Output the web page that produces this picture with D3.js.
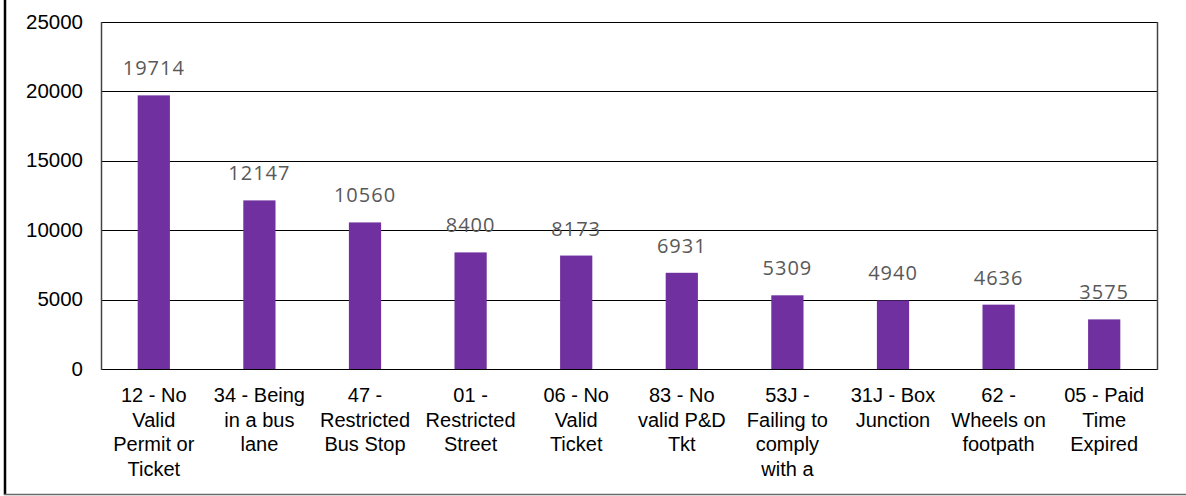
<!DOCTYPE html>
<html>
<head>
<meta charset="utf-8">
<script src="https://cdn.jsdelivr.net/npm/d3@7"></script>
<style>
  body { margin: 0; background: #fff; }
  svg { display: block; }
</style>
</head>
<body>
<div id="chart"></div>
<script>
// ======= chart data
var categories = [
  "12 - No\nValid\nPermit or\nTicket",
  "34 - Being\nin a bus\nlane",
  "47 -\nRestricted\nBus Stop",
  "01 -\nRestricted\nStreet",
  "06 - No\nValid\nTicket",
  "83 - No\nvalid P&D\nTkt",
  "53J -\nFailing to\ncomply\nwith a",
  "31J - Box\nJunction",
  "62 -\nWheels on\nfootpath",
  "05 - Paid\nTime\nExpired"
];
var counts = [19714, 12147, 10560, 8400, 8173, 6931, 5309, 4940, 4636, 3575];
var yTicks = [0, 5000, 10000, 15000, 20000, 25000];

var W = 1186, H = 496;
var plot = { left: 101, right: 1157, top: 22, bottom: 369 };

var svg = d3.select("#chart").append("svg")
  .attr("width", W)
  .attr("height", H);

// ======= outer frame (left + bottom edges only show)
svg.append("line")
  .attr("x1", 5).attr("x2", 5).attr("y1", 0).attr("y2", 495)
  .attr("stroke", "#000").attr("stroke-width", 2.5);
svg.append("line")
  .attr("x1", 4).attr("x2", W).attr("y1", 494.5).attr("y2", 494.5)
  .attr("stroke", "#6a6a6a").attr("stroke-width", 1.5);

var x = d3.scaleBand()
  .domain(d3.range(categories.length))
  .range([plot.left, plot.right])
  .paddingInner(0.695)
  .paddingOuter(0.3475);

var y = d3.scaleLinear()
  .domain([0, 25000])
  .range([plot.bottom, plot.top]);

// ======= gridlines
svg.append("g").selectAll("line")
  .data(yTicks)
  .enter()
  .append("line")
  .attr("x1", plot.left)
  .attr("x2", plot.right)
  .attr("y1", function(d) { return Math.round(y(d)) + 0.5; })
  .attr("y2", function(d) { return Math.round(y(d)) + 0.5; })
  .attr("stroke", "#000")
  .attr("stroke-width", 1);

// ======= plot frame left/right
svg.append("line")
  .attr("x1", plot.left + 0.5).attr("x2", plot.left + 0.5)
  .attr("y1", plot.top).attr("y2", plot.bottom + 1)
  .attr("stroke", "#444").attr("stroke-width", 1.5);
svg.append("line")
  .attr("x1", plot.right + 0.5).attr("x2", plot.right + 0.5)
  .attr("y1", plot.top).attr("y2", plot.bottom + 1)
  .attr("stroke", "#444").attr("stroke-width", 1.5);

// ======= y tick labels
svg.append("g").selectAll("text")
  .data(yTicks)
  .enter()
  .append("text")
  .text(function(d) { return d; })
  .attr("x", 83)
  .attr("y", function(d) { return y(d) + 6.5; })
  .attr("text-anchor", "end")
  .attr("fill", "#000")
  .attr("font-family", "Liberation Sans, Arial, sans-serif")
  .attr("font-size", "20.5px");

// ======= bars
svg.append("g").selectAll("rect")
  .data(counts)
  .enter()
  .append("rect")
  .attr("x", function(d, j) { return x(j); })
  .attr("y", function(d) { return y(d); })
  .attr("width", x.bandwidth())
  .attr("height", function(d) { return y(0) - y(d); })
  .attr("fill", "#7030A0");

// ======= value labels
svg.append("g").selectAll("text")
  .data(counts)
  .enter()
  .append("text")
  .text(function(d) { return d; })
  .attr("x", function(d, j) { return x(j) + x.bandwidth() / 2; })
  .attr("y", function(d) { return y(d) - 20; })
  .attr("text-anchor", "middle")
  .attr("fill", "#595959")
  .attr("letter-spacing", "1px")
  .attr("font-family", "Open Sans, Carlito, sans-serif")
  .attr("font-size", "20px");

// ======= category labels (multi-line)
var catText = svg.append("g").selectAll("text")
  .data(categories)
  .enter()
  .append("text")
  .attr("text-anchor", "middle")
  .attr("fill", "#000")
  .attr("font-family", "Liberation Sans, Arial, sans-serif")
  .attr("font-size", "20px");

catText.each(function(d, j) {
  var cx = x(j) + x.bandwidth() / 2;
  d3.select(this).selectAll("tspan")
    .data(d.split("\n"))
    .enter()
    .append("tspan")
    .attr("x", cx)
    .attr("y", function(line, k) { return 402 + k * 24.5; })
    .text(function(line) { return line; });
});
</script>
</body>
</html>
